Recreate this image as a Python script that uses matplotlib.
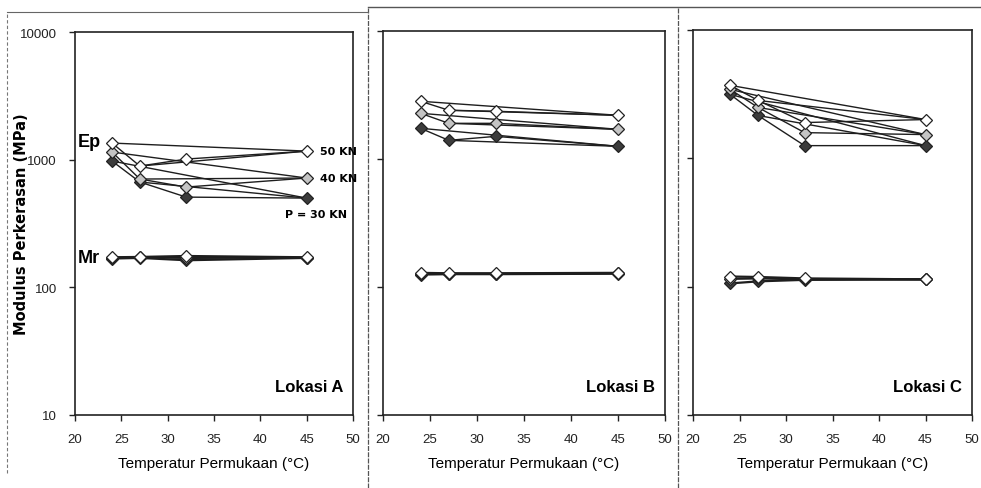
import matplotlib
matplotlib.use("Agg")
import matplotlib.pyplot as plt
from matplotlib import font_manager
from matplotlib.lines import Line2D

# ---------------- data ----------------
temps = [24, 27, 32, 45]
loads = ["30 KN", "40 KN", "50 KN"]

# Ep (MPa) per location, per load (order: 30, 40, 50 KN) at temps
ep_A_30 = [975, 668, 509, 500]
ep_A_40 = [1147, 705, 610, 718]
ep_A_50 = [1349, 891, 1011, 1167]

ep_B_30 = [1737, 1399, 1503, 1256]
ep_B_40 = [2275, 1900, 1900, 1706]
ep_B_50 = [2825, 2403, 2360, 2195]

ep_C_30 = [3148, 2157, 1256, 1256]
ep_C_40 = [3444, 2490, 1586, 1531]
ep_C_50 = [3704, 2825, 1900, 2006]

# Mr (MPa)
mr_A_30 = [168, 170, 163, 170]
mr_A_40 = [170, 172, 170, 171]
mr_A_50 = [172, 173, 176, 172]

mr_B_30 = [125, 126, 126, 127]
mr_B_40 = [127, 127, 127, 128]
mr_B_50 = [129, 128, 128, 129]

mr_C_30 = [106, 110, 113, 114]
mr_C_40 = [115, 116, 114, 114]
mr_C_50 = [120, 119, 116, 114]

locations = ["Lokasi A", "Lokasi B", "Lokasi C"]
x_ticks = [20, 25, 30, 35, 40, 45, 50]
y_ticks = [10, 100, 1000, 10000]
y_tick_labels = ["10", "100", "1000", "10000"]

# ---------------- fonts ----------------
names = {f.name for f in font_manager.fontManager.ttflist}
if "Liberation Sans Narrow" in names:
    FONT = "Liberation Sans Narrow"
else:
    FONT = "Liberation Sans"
plt.rcParams["font.family"] = [FONT, "DejaVu Sans"]

fig = plt.figure(figsize=(9.81, 4.89), dpi=100)
fig.patch.set_facecolor("white")

W, H = 981.0, 489.0
def rect(x0, x1, y_top, y_bot):
    return [x0 / W, 1 - y_bot / H, (x1 - x0) / W, (y_bot - y_top) / H]

rects = [rect(75, 353, 33, 416), rect(383, 665, 32, 416), rect(693, 972, 31, 416)]

ep_data = [
    [ep_A_30, ep_A_40, ep_A_50],
    [ep_B_30, ep_B_40, ep_B_50],
    [ep_C_30, ep_C_40, ep_C_50],
]
mr_data = [
    [mr_A_30, mr_A_40, mr_A_50],
    [mr_B_30, mr_B_40, mr_B_50],
    [mr_C_30, mr_C_40, mr_C_50],
]
fills = ["#3c3c3c", "#c4c4c4", "#ffffff"]
LC = "#1e1e1e"

axes = []
for i, r in enumerate(rects):
    ax = fig.add_axes(r)
    axes.append(ax)
    ax.set_yscale("log")
    ax.set_xlim(20, 50)
    ax.set_ylim(10, 10000)
    ax.set_xticks(x_ticks)
    ax.set_xticklabels([str(t) for t in x_ticks], fontsize=9.5)
    ax.set_yticks(y_ticks)
    ax.yaxis.set_minor_locator(matplotlib.ticker.NullLocator())
    if i == 0:
        ax.set_yticklabels(y_tick_labels, fontsize=9.5)
    else:
        ax.set_yticklabels([])
    ax.tick_params(axis="both", direction="out", length=4, width=1.0,
                   pad=9, colors="#222222")
    for s in ax.spines.values():
        s.set_linewidth(1.2)
        s.set_color("#222222")
    ax.set_xlabel("Temperatur Permukaan (°C)", fontsize=11, labelpad=8)

    # Ep series: polyline plus spokes to the 45 °C point
    for k in range(3):
        vals = ep_data[i][k]
        ax.plot(temps, vals, color=LC, lw=1.0, zorder=2)
        for j in range(len(temps) - 2):
            ax.plot([temps[j], temps[-1]], [vals[j], vals[-1]], color=LC,
                    lw=1.0, zorder=2)
    for k in range(3):
        vals = ep_data[i][k]
        ax.plot(temps, vals, ls="none", marker="D", ms=6.5, mfc=fills[k],
                mec="#222222", mew=0.9, zorder=3 + k)
    # Mr series
    for k in range(3):
        vals = mr_data[i][k]
        ax.plot(temps, vals, color=LC, lw=1.6, zorder=2)
    for k in range(3):
        vals = mr_data[i][k]
        ax.plot(temps, vals, ls="none", marker="D", ms=6.5, mfc=fills[k],
                mec="#222222", mew=0.9, zorder=3 + k)

    ax.text(0.965, 0.055, locations[i], transform=ax.transAxes, ha="right",
            va="bottom", fontsize=12, fontweight="bold")

axA = axes[0]
axA.set_ylabel("Modulus Perkerasan (MPa)", fontsize=10.5, fontweight="bold",
               family="DejaVu Sans")
axA.yaxis.set_label_coords(-0.165, 0.5)
axA.text(20.3, ep_A_50[0] * 1.03, "Ep", fontsize=13, fontweight="bold",
         ha="left", va="center")
axA.text(20.3, mr_A_50[0], "Mr", fontsize=13, fontweight="bold",
         ha="left", va="center")
axA.text(46.4, ep_A_50[-1], "50 KN", fontsize=8, fontweight="bold",
         ha="left", va="center", family="DejaVu Sans")
axA.text(46.4, ep_A_40[-1], "40 KN", fontsize=8, fontweight="bold",
         ha="left", va="center", family="DejaVu Sans")
axA.text(49.3, ep_A_30[-1] * 0.75, "P = 30 KN", fontsize=8, fontweight="bold",
         ha="right", va="center", family="DejaVu Sans")

# panel separators / scan frame lines
for xp in [368, 678]:
    fig.add_artist(Line2D([xp / W, xp / W], [0, 1 - 8 / H], color="#555555",
                          lw=0.9, ls=(0, (4, 1))))
fig.add_artist(Line2D([7 / W, 7 / W], [0.03, 1 - 13 / H], color="#777777",
                      lw=0.8, ls=(0, (3, 2))))
fig.add_artist(Line2D([7 / W, 368 / W], [1 - 13 / H, 1 - 13 / H],
                      color="#666666", lw=0.8))
fig.add_artist(Line2D([368 / W, 981 / W], [1 - 8 / H, 1 - 8 / H],
                      color="#555555", lw=1.0))

fig.savefig("out.png", dpi=100, facecolor="white")
